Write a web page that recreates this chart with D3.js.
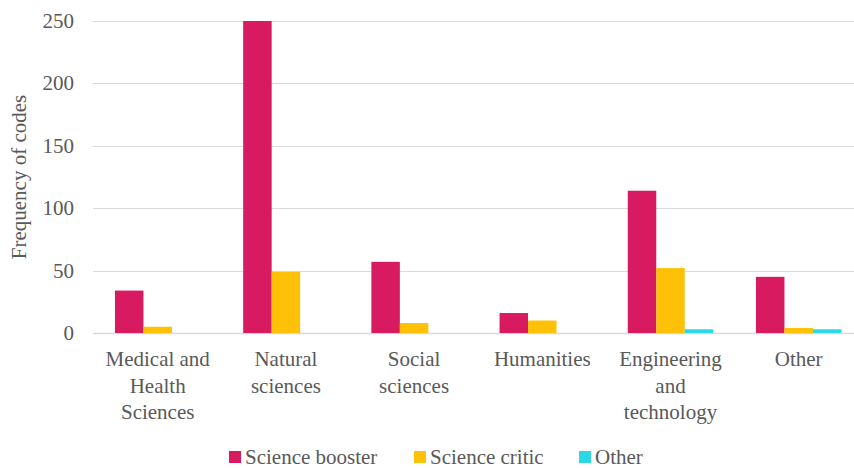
<!DOCTYPE html>
<html>
<head>
<meta charset="utf-8">
<script src="https://cdn.jsdelivr.net/npm/d3@7"></script>
<style>
  body { margin: 0; background: #fff; }
  svg text { font-family: "Liberation Serif", "DejaVu Serif", serif; }
</style>
</head>
<body>
<svg id="chart" width="854" height="468"></svg>
<script>
// Data
const categories = [
  ["Medical and", "Health", "Sciences"],
  ["Natural", "sciences"],
  ["Social", "sciences"],
  ["Humanities"],
  ["Engineering", "and", "technology"],
  ["Other"]
];
const seriesNames = ["Science booster", "Science critic", "Other"];
const booster = [34, 250, 57, 16, 114, 45];
const critic = [5, 49, 8, 10, 52, 4];
const other = [0, 0, 0, 0, 3, 3];
const yTicks = [0, 50, 100, 150, 200, 250];
const colors = ["#d81b60", "#ffc107", "#2cd9e3"];

const series = [booster, critic, other];
const svg = d3.select("#chart");
const margin = {top: 21, left: 93.6, bottom: 333, right: 862.8};

// category bands (plot area runs a bit past the right edge, as in the original)
const x0 = d3.scaleBand()
  .domain(d3.range(categories.length))
  .range([margin.left, margin.right]);
const bandW = x0.bandwidth();
// three bars per group, gap width 150% of a bar
const xs = d3.scaleBand()
  .domain(d3.range(series.length))
  .range([0, bandW * 3 / 4.5]);
const groupOffset = bandW * 0.75 / 4.5;

const y = d3.scaleLinear().domain([0, 250]).range([margin.bottom, margin.top]);

// gridlines
svg.append("g")
  .selectAll("line")
  .data(yTicks)
  .enter().append("line")
  .attr("x1", 93).attr("x2", 854)
  .attr("y1", d => Math.round(y(d)) + 0.5)
  .attr("y2", d => Math.round(y(d)) + 0.5)
  .attr("stroke", "#d9d9d9")
  .attr("stroke-width", d => d === 0 ? 1.5 : 1);

// y tick labels
svg.append("g")
  .selectAll("text")
  .data(yTicks)
  .enter().append("text")
  .attr("x", 74)
  .attr("y", d => y(d) + 7)
  .attr("text-anchor", "end")
  .attr("fill", "#595959")
  .style("font-size", "21px")
  .text(d => d);

// bars
series.forEach((vals, si) => {
  svg.append("g")
    .selectAll("rect")
    .data(vals)
    .enter().append("rect")
    .attr("x", (d, i) => x0(i) + groupOffset + xs(si))
    .attr("width", xs.bandwidth())
    .attr("y", d => y(d))
    .attr("height", d => y(0) - y(d))
    .attr("fill", colors[si]);
});

// category labels
const catG = svg.append("g");
categories.forEach((lines, i) => {
  const cx = x0(i) + bandW / 2;
  const t = catG.append("text")
    .attr("text-anchor", "middle")
    .attr("fill", "#595959")
    .style("font-size", "21px");
  lines.forEach((ln, j) => {
    t.append("tspan").attr("x", cx).attr("y", 366 + j * 26.5).text(ln);
  });
});

// y axis title
svg.append("text")
  .attr("transform", "translate(26,177) rotate(-90)")
  .attr("text-anchor", "middle")
  .attr("fill", "#595959")
  .style("font-size", "21px")
  .text("Frequency of codes");

// legend
const legendX = [229, 414, 579];
const legend = svg.append("g");
seriesNames.forEach((name, i) => {
  legend.append("rect")
    .attr("x", legendX[i]).attr("y", 451)
    .attr("width", 12).attr("height", 12)
    .attr("fill", colors[i]);
  legend.append("text")
    .attr("x", legendX[i] + 16).attr("y", 464)
    .attr("fill", "#595959")
    .style("font-size", "21px")
    .text(name);
});
</script>
</body>
</html>
